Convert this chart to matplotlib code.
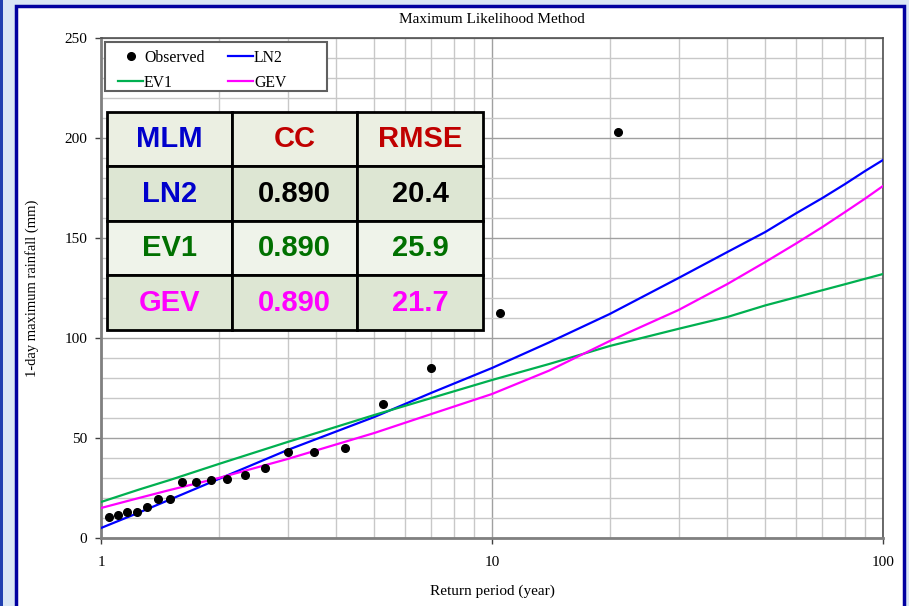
import numpy as np
import matplotlib.pyplot as plt
from matplotlib.patches import Rectangle
from matplotlib.lines import Line2D
from matplotlib.ticker import MultipleLocator, LogLocator, FixedLocator, FixedFormatter, NullFormatter

# observed annual maxima vs return period
obs_T = [1.05, 1.105, 1.167, 1.235, 1.3125, 1.4, 1.5, 1.615, 1.75, 1.909,
         2.1, 2.333, 2.625, 3.0, 3.5, 4.2, 5.25, 7.0, 10.5, 21.0]
obs_mm = [10.5, 11.5, 13, 13, 15.5, 19.5, 19.5, 28, 28, 29,
          29.5, 31.5, 35, 43, 43, 45, 67, 85, 112.5, 203]

# fitted curves
fit_T = [1, 1.25, 1.5, 2, 3, 5, 7, 10, 14, 20, 30, 40, 50, 60, 70, 80, 90, 100]
ln2_mm = [5, 12.7, 19.2, 29.5, 44, 60.5, 72.6, 85, 97.8, 112, 130, 143, 153, 162.4,
          170, 177, 183.5, 189]
ev1_mm = [18, 24.2, 29, 37, 48, 61.5, 70, 79, 87, 96, 104.6, 110.5, 116.3, 120.4,
          123.9, 126.9, 129.6, 132]
gev_mm = [15, 20, 24, 30, 39.5, 52.5, 62, 72, 83.7, 98.5, 114, 127, 138, 147.3,
          155.5, 163, 169.7, 176]

# goodness of fit table
tbl_head = ["MLM", "CC", "RMSE"]
tbl_models = ["LN2", "EV1", "GEV"]
tbl_cc = ["0.890", "0.890", "0.890"]
tbl_rmse = ["20.4", "25.9", "21.7"]

serif = "Liberation Serif"
sans = "Liberation Sans"

fig = plt.figure(figsize=(9.09, 6.06), dpi=100, facecolor="#d9e6f5")
# white chart panel with navy frame
fig.patches.append(Rectangle((16 / 909, -0.02), 888 / 909, 1.0 - 6 / 606 + 0.02,
                             transform=fig.transFigure, facecolor="white",
                             edgecolor="#0000a0", lw=2.5, zorder=-2))
fig.patches.append(Rectangle((0, -0.02), 3 / 909, 1.04, transform=fig.transFigure,
                             facecolor="#2040b0", edgecolor="none", zorder=-2))

ax = fig.add_axes([101 / 909, 68 / 606, 782 / 909, 500 / 606])
ax.set_facecolor("white")

ax.plot(fit_T, ln2_mm, color="#0000ff", lw=1.6, zorder=3)
ax.plot(fit_T, ev1_mm, color="#00b050", lw=1.6, zorder=3)
ax.plot(fit_T, gev_mm, color="#ff00ff", lw=1.6, zorder=3)
ax.plot(obs_T, obs_mm, "o", color="black", ms=5.5, zorder=4)

ax.set_xscale("log")
ax.set_xlim(1, 100)
ax.set_ylim(0, 250)
ax.xaxis.set_major_locator(FixedLocator([1, 10, 100]))
ax.xaxis.set_major_formatter(FixedFormatter(["1", "10", "100"]))
ax.xaxis.set_minor_locator(LogLocator(base=10, subs=np.arange(2, 10)))
ax.xaxis.set_minor_formatter(NullFormatter())
ax.yaxis.set_major_locator(MultipleLocator(50))
ax.yaxis.set_minor_locator(MultipleLocator(10))

ax.grid(which="major", color="#a0a0a0", lw=1.0)
ax.grid(which="minor", color="#c8c8c8", lw=1.0)
ax.set_axisbelow(True)

ax.tick_params(which="major", direction="out", length=4, width=1, color="#404040",
               labelsize=11)
ax.tick_params(axis="x", which="major", pad=9)
ax.tick_params(axis="y", which="major", pad=6)
ax.tick_params(which="minor", length=0)
for lab in ax.get_xticklabels() + ax.get_yticklabels():
    lab.set_fontfamily(serif)

for side in ["left", "bottom"]:
    ax.spines[side].set_color("#808080")
    ax.spines[side].set_linewidth(2)
for side in ["top", "right"]:
    ax.spines[side].set_color("#505050")
    ax.spines[side].set_linewidth(1.2)

ax.set_title("Maximum Likelihood Method", fontfamily=serif, fontsize=11, pad=11)
ax.set_xlabel("Return period (year)", fontfamily=serif, fontsize=11, labelpad=11)
ax.set_ylabel("1-day maximum rainfall (mm)", fontfamily=serif, fontsize=10.5, labelpad=18)

# legend box (frame drawn separately so it can be wider than its entries)
ax.add_patch(Rectangle((0.0051, 0.894), 0.284, 0.098, transform=ax.transAxes,
                       facecolor="white", edgecolor="#606060", lw=1.5, zorder=5))
handles = [
    Line2D([], [], marker="o", ls="none", color="black", ms=5.5),
    Line2D([], [], color="#00b050", lw=1.6),
    Line2D([], [], color="#0000ff", lw=1.6),
    Line2D([], [], color="#ff00ff", lw=1.6),
]
leg = ax.legend(handles, ["Observed", "EV1", "LN2", "GEV"], ncol=2,
                loc="upper left", bbox_to_anchor=(0.0128, 0.991), borderaxespad=0,
                prop={"family": serif, "size": 11.3}, frameon=False,
                handlelength=1.6, handletextpad=0.05, columnspacing=1.5,
                labelspacing=0.6, borderpad=0.45)
leg.set_zorder(6)

# statistics table
cell_text = [tbl_head] + [[m, c, r] for m, c, r in zip(tbl_models, tbl_cc, tbl_rmse)]
row_fill = ["#ebefe2", "#dde6d3", "#eff3ea", "#dde6d3"]
model_col = ["#0000cc", "#0000cc", "#007000", "#ff00ff"]
value_col = ["#c00000", "#000000", "#007000", "#ff00ff"]

tbl = ax.table(cellText=cell_text, cellLoc="center",
               bbox=[0.0073, 0.416, 0.481, 0.4366])
tbl.auto_set_font_size(False)
tbl.set_zorder(6)
for (r, c), cell in tbl.get_celld().items():
    cell.set_facecolor(row_fill[r])
    cell.set_edgecolor("black")
    cell.set_linewidth(2)
    txt = cell.get_text()
    txt.set_fontfamily(sans)
    txt.set_fontweight("bold")
    txt.set_fontsize(21)
    txt.set_color(model_col[r] if c == 0 else value_col[r])

fig.savefig("out.png", dpi=100, facecolor=fig.get_facecolor())
